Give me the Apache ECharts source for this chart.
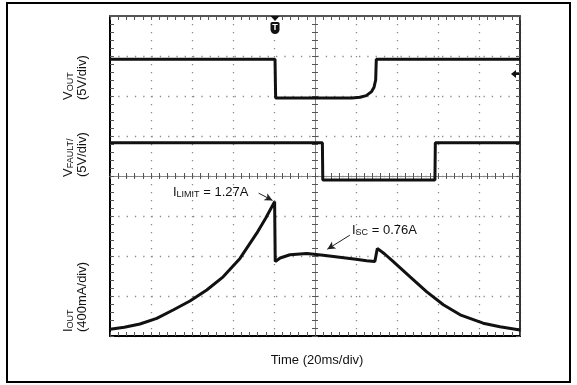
<!DOCTYPE html>
<html>
<head>
<meta charset="utf-8">
<script src="https://cdn.jsdelivr.net/npm/echarts@6/dist/echarts.min.js"></script>
<style>
html, body { margin: 0; padding: 0; background: #fff; }
#scope { width: 577px; height: 385px; }
</style>
</head>
<body>
<div id="scope"></div>
<script>
// time in ms (20 ms/div, 10 div), levels in screen divisions from the bottom line (8 div)
var vout_time  = [0, 80.5, 80.8, 118, 122, 125, 127.6, 128.8, 129.6, 129.9, 200];
var vout_level = [6.92, 6.92, 5.95, 5.95, 5.97, 6.01, 6.11, 6.22, 6.4, 6.92, 6.92];

var vfault_time  = [0, 103.6, 103.8, 158.5, 158.7, 200];
var vfault_level = [4.83, 4.83, 3.9, 3.9, 4.83, 4.83];

var iout_time  = [0, 7, 14.6, 22.8, 30.8, 39, 47.2, 55.2, 63.4, 71.6, 76, 80.3, 80.6, 83, 87.8, 96, 104, 112, 120, 125.2, 129.2, 130.4, 134, 138.2, 146.4, 154.4, 162.6, 170.8, 182, 190.2, 200];
var iout_level = [0.17, 0.22, 0.3, 0.44, 0.65, 0.875, 1.15, 1.48, 1.94, 2.57, 2.95, 3.36, 1.86, 1.95, 2.03, 2.06, 2.02, 1.97, 1.92, 1.88, 1.86, 2.19, 2.05, 1.86, 1.48, 1.11, 0.78, 0.53, 0.32, 0.23, 0.15];

var trigger_ms = 80.5;
var vout_ground_div = 6.55;

// annotation arrows [from, to] in (ms, div)
var ilimit_arrow = [[72.5, 3.57], [79.3, 3.39]];
var isc_arrow = [[117, 2.52], [106, 2.17]];

var font = "'Liberation Sans', Arial, sans-serif";

function zip(t, v) {
    return t.map(function (x, i) { return [x, v[i]]; });
}

var chartDom = document.getElementById('scope');
var myChart = echarts.init(chartDom, null, { renderer: 'canvas' });

var tickStyle = { color: '#555', width: 1 };

function edgeX(pos, lineColor, dots) {
    return {
        gridIndex: 0, type: 'value', min: 0, max: 200, interval: 20, position: pos,
        axisLine: { show: true, onZero: false, lineStyle: { color: lineColor, width: 2 } },
        axisTick: { show: true, inside: true, length: 4, lineStyle: tickStyle },
        minorTick: { show: true, splitNumber: 5, length: 4, lineStyle: tickStyle },
        axisLabel: { show: false },
        splitLine: { show: dots, lineStyle: { color: '#8a8a8a', width: 1.3, type: [1.3, 6.7] } }
    };
}

function edgeY(pos, lineColor, dots) {
    return {
        gridIndex: 0, type: 'value', min: 0, max: 8, interval: 1, position: pos,
        axisLine: { show: true, onZero: false, lineStyle: { color: lineColor, width: 2 } },
        axisTick: { show: true, inside: true, length: 4, lineStyle: tickStyle },
        minorTick: { show: true, splitNumber: 5, length: 4, lineStyle: tickStyle },
        axisLabel: { show: false },
        splitLine: { show: dots, lineStyle: { color: '#8a8a8a', width: 1.3, type: [1.3, 7.0] } }
    };
}

// centre cross of the graticule, drawn by a second grid whose axes cross at zero
function centreX(pos) {
    return {
        gridIndex: 1, type: 'value', min: -100, max: 100, interval: 20, position: pos,
        axisLine: { show: true, onZero: true, lineStyle: { color: '#888', width: 1 } },
        axisTick: { show: true, inside: true, length: 3, lineStyle: tickStyle },
        minorTick: { show: true, splitNumber: 5, length: 3, lineStyle: tickStyle },
        axisLabel: { show: false },
        splitLine: { show: false }
    };
}

function centreY(pos) {
    return {
        gridIndex: 1, type: 'value', min: -4, max: 4, interval: 1, position: pos,
        axisLine: { show: true, onZero: true, lineStyle: { color: '#888', width: 1 } },
        axisTick: { show: true, inside: true, length: 3, lineStyle: tickStyle },
        minorTick: { show: true, splitNumber: 5, length: 3, lineStyle: tickStyle },
        axisLabel: { show: false },
        splitLine: { show: false }
    };
}

function trace(data) {
    return {
        type: 'line', xAxisIndex: 0, yAxisIndex: 0, data: data,
        showSymbol: false, symbol: 'none', silent: true, z: 5,
        lineStyle: { color: '#111', width: 3 },
        emphasis: { disabled: true }
    };
}

var iout_series = trace(zip(iout_time, iout_level));
iout_series.markLine = {
    silent: true, symbol: ['none', 'arrow'], symbolSize: [6, 8],
    label: { show: false }, emphasis: { disabled: true },
    lineStyle: { color: '#222', width: 1, type: 'solid' },
    data: [
        [{ coord: ilimit_arrow[0] }, { coord: ilimit_arrow[1] }],
        [{ coord: isc_arrow[0] }, { coord: isc_arrow[1] }]
    ]
};

var option = {
    animation: false,
    backgroundColor: '#fff',
    grid: [
        { left: 110, top: 16, width: 410, height: 320, outerBoundsMode: 'none' },
        { left: 110, top: 16, width: 410, height: 320, outerBoundsMode: 'none' }
    ],
    xAxis: [edgeX('bottom', '#000', true), edgeX('top', '#555', false), centreX('bottom'), centreX('top')],
    yAxis: [edgeY('left', '#000', true), edgeY('right', '#333', false), centreY('left'), centreY('right')],
    series: [
        trace(zip(vout_time, vout_level)),
        trace(zip(vfault_time, vfault_level)),
        iout_series
    ]
};

myChart.setOption(option);

// markers and labels placed from the chart scales
var tx = myChart.convertToPixel({ xAxisIndex: 0 }, trigger_ms);
var gy = myChart.convertToPixel({ yAxisIndex: 0 }, vout_ground_div);
var rightEdge = myChart.convertToPixel({ xAxisIndex: 0 }, 200);
var topEdge = myChart.convertToPixel({ yAxisIndex: 0 }, 8);

var mainRich = { fontSize: 13, lineHeight: 14, fontFamily: font, fill: '#111' };
var subRich = { fontSize: 9, lineHeight: 7, verticalAlign: 'bottom', fontFamily: font, fill: '#111' };

function sideLabel(x, y, main, sub, scale) {
    return {
        type: 'text', x: x, y: y, rotation: Math.PI / 2, z: 10,
        style: {
            text: '{m|' + main + '}{s|' + sub + '}\n{m|' + scale + '}',
            rich: { m: mainRich, s: subRich },
            align: 'left', verticalAlign: 'middle'
        }
    };
}

function note(x, y, main, sub, rest) {
    return {
        type: 'text', x: x, y: y, z: 10,
        style: {
            text: '{m|' + main + '}{s|' + sub + '}{m|' + rest + '}',
            rich: { m: mainRich, s: subRich },
            align: 'left', verticalAlign: 'middle'
        }
    };
}

myChart.setOption({
    graphic: [
        { type: 'rect', shape: { x: 7, y: 3, width: 563, height: 379 }, style: { fill: 'none', stroke: '#000', lineWidth: 2 }, z: 1 },
        sideLabel(75, 100, 'V', 'OUT', '(5V/div)'),
        sideLabel(75, 177, 'V', 'FAULT/', '(5V/div)'),
        sideLabel(75, 332, 'I', 'OUT', '(400mA/div)'),
        { type: 'text', x: 317, y: 360, z: 10, style: { text: 'Time (20ms/div)', fontSize: 13, fontFamily: font, fill: '#111', align: 'center', verticalAlign: 'middle' } },
        note(173, 192, 'I', 'LIMIT', ' = 1.27A'),
        note(352, 230, 'I', 'SC', ' = 0.76A'),
        // trigger marker
        { type: 'polygon', z: 10, shape: { points: [[tx - 4.5, topEdge], [tx + 4.5, topEdge], [tx, topEdge + 5]] }, style: { fill: '#111' } },
        { type: 'rect', z: 10, shape: { x: tx - 4.5, y: topEdge + 6, width: 9, height: 12, r: [1.5, 1.5, 4.5, 4.5] }, style: { fill: '#111' } },
        { type: 'text', z: 11, x: tx, y: topEdge + 12, style: { text: 'T', fontSize: 9, fontWeight: 'bold', fontFamily: font, fill: '#fff', align: 'center', verticalAlign: 'middle' } },
        // ground level marker on the right
        { type: 'polygon', z: 10, shape: { points: [[rightEdge - 9, gy], [rightEdge - 4, gy - 4], [rightEdge - 4, gy + 4]] }, style: { fill: '#111' } },
        { type: 'line', z: 10, shape: { x1: rightEdge - 5, y1: gy, x2: rightEdge - 1, y2: gy }, style: { stroke: '#111', lineWidth: 2 } }
    ]
});
</script>
</body>
</html>
